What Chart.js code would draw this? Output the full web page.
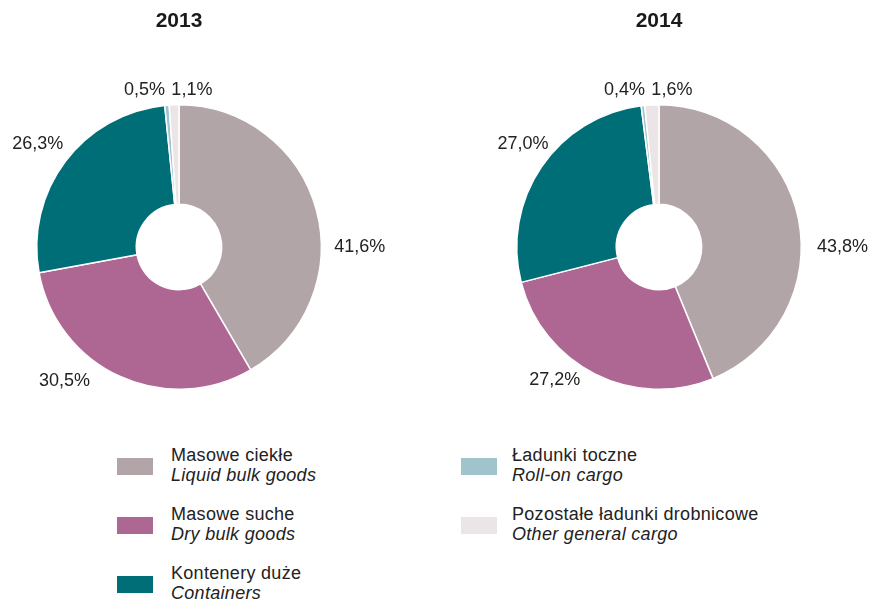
<!DOCTYPE html>
<html>
<head>
<meta charset="utf-8">
<script src="https://cdn.jsdelivr.net/npm/chart.js@4/dist/chart.umd.min.js"></script>
<style>
  html, body { margin: 0; padding: 0; background: #fff; }
  #wrap { position: relative; width: 880px; height: 602px; overflow: hidden;
          font-family: "Liberation Sans", Arial, sans-serif; color: #222; }
  .pie { position: absolute; top: 0; width: 440px; height: 400px; }
  .key { position: absolute; display: flex; align-items: flex-start; }
  .sw { width: 36px; height: 17px; margin-top: 13px; flex: none; }
  .txt { font-size: 18px; line-height: 20px; letter-spacing: 0.3px; white-space: nowrap; }
  .txt i { display: block; }
</style>
</head>
<body>
<div id="wrap">
  <div class="pie" style="left:0"><canvas id="c2013"></canvas></div>
  <div class="pie" style="left:440px"><canvas id="c2014"></canvas></div>
</div>
<script>
// Cargo structure by type, share of total turnover (%)
const years = ['2013', '2014'];
const categoriesPl = ['Masowe ciekłe', 'Masowe suche', 'Kontenery duże', 'Ładunki toczne', 'Pozostałe ładunki drobnicowe'];
const categoriesEn = ['Liquid bulk goods', 'Dry bulk goods', 'Containers', 'Roll-on cargo', 'Other general cargo'];
const shares2013 = [41.6, 30.5, 26.3, 0.5, 1.1];
const shares2014 = [43.8, 27.2, 27.0, 0.4, 1.6];

const colors = ['#b1a5a7', '#ad6792', '#006e77', '#9fc4cc', '#ebe5e8'];

// Where each value label sits: angle (deg, clockwise from 3 o'clock) and
// distance from the centre as a multiple of the outer radius.
const labelPlacement = {
  '2013': [[0, 1.27], [130.5, 1.24], [216.2, 1.23], [257.6, 1.13], [274.7, 1.105]],
  '2014': [[0, 1.29], [128, 1.19], [217.2, 1.20], [257.6, 1.13], [274.7, 1.105]]
};

const fmt = v => v.toFixed(1).replace('.', ',') + '%';

const valueLabels = {
  id: 'valueLabels',
  afterDatasetsDraw(chart) {
    const meta = chart.getDatasetMeta(0);
    const values = chart.data.datasets[0].data;
    const place = labelPlacement[chart.options.plugins.title.text];
    const ctx = chart.ctx;
    ctx.save();
    ctx.font = '18px "Liberation Sans", Arial, sans-serif';
    ctx.fillStyle = '#222';
    ctx.textAlign = 'center';
    ctx.textBaseline = 'middle';
    meta.data.forEach((arc, i) => {
      const a = place[i][0] * Math.PI / 180;
      const r = arc.outerRadius * place[i][1];
      ctx.fillText(fmt(values[i]), arc.x + r * Math.cos(a), arc.y + r * Math.sin(a));
    });
    ctx.restore();
  }
};

function makeDoughnut(id, year, values, padLeft, padRight) {
  new Chart(document.getElementById(id), {
    type: 'doughnut',
    data: {
      labels: categoriesPl,
      datasets: [{
        data: values,
        backgroundColor: colors,
        borderColor: '#ffffff',
        borderWidth: 1.5
      }]
    },
    options: {
      responsive: false,
      animation: false,
      events: [],
      cutout: '30%',
      layout: { padding: { left: padLeft, right: padRight, top: 0, bottom: 10 } },
      plugins: {
        legend: { display: false },
        tooltip: { enabled: false },
        title: {
          display: true,
          text: year,
          color: '#1a1a1a',
          font: { family: '"Liberation Sans", Arial, sans-serif', size: 21, weight: 'bold' },
          padding: { top: 8.4, bottom: 70.4 }
        }
      }
    },
    plugins: [valueLabels]
  });
}

const c1 = document.getElementById('c2013');
const c2 = document.getElementById('c2014');
[c1, c2].forEach(c => { c.width = 440; c.height = 400; });

makeDoughnut('c2013', years[0], shares2013, 36, 118);
makeDoughnut('c2014', years[1], shares2014, 76, 78);

// Legend: two columns, Polish name over the English name in italics
const wrap = document.getElementById('wrap');
const columns = [
  { left: 117, gap: 18, items: [0, 1, 2] },
  { left: 461, gap: 15, items: [3, 4] }
];
columns.forEach(col => {
  col.items.forEach((idx, row) => {
    const el = document.createElement('div');
    el.className = 'key';
    el.style.left = col.left + 'px';
    el.style.top = (445 + row * 59) + 'px';
    const sw = document.createElement('div');
    sw.className = 'sw';
    sw.style.background = colors[idx];
    const txt = document.createElement('div');
    txt.className = 'txt';
    txt.style.marginLeft = col.gap + 'px';
    const pl = document.createElement('span');
    pl.textContent = categoriesPl[idx];
    const en = document.createElement('i');
    en.textContent = categoriesEn[idx];
    txt.appendChild(pl);
    txt.appendChild(en);
    el.appendChild(sw);
    el.appendChild(txt);
    wrap.appendChild(el);
  });
});
</script>
</body>
</html>
